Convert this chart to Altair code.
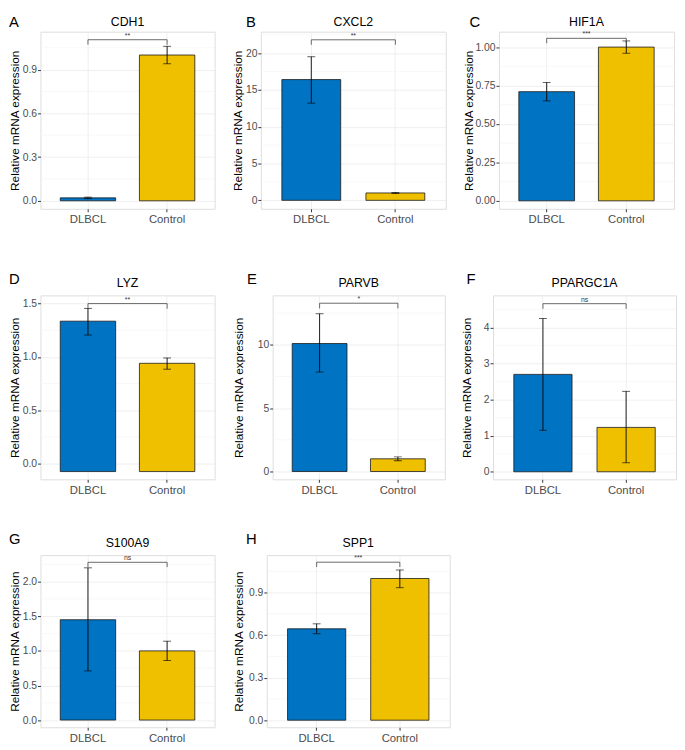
import altair as alt
import pandas as pd

# ---------------- data ----------------
genes = ["CDH1", "CXCL2", "HIF1A", "LYZ", "PARVB", "PPARGC1A", "S100A9", "SPP1"]
letters = ["A", "B", "C", "D", "E", "F", "G", "H"]
groups = ["DLBCL", "Control"]

dlbcl_mean = [0.02, 16.4, 0.71, 1.335, 10.1, 2.70, 1.45, 0.645]
dlbcl_lo = [0.015, 13.2, 0.65, 1.205, 7.85, 1.15, 0.71, 0.61]
dlbcl_hi = [0.025, 19.5, 0.77, 1.455, 12.45, 4.25, 2.20, 0.68]

control_mean = [1.0, 1.0, 1.0, 0.94, 1.0, 1.23, 1.0, 1.0]
control_lo = [0.94, 0.92, 0.96, 0.885, 0.85, 0.25, 0.86, 0.935]
control_hi = [1.06, 1.05, 1.04, 0.99, 1.15, 2.23, 1.14, 1.06]

bar_base = [0, 0, 0, -0.075, 0, 0, 0, 0]

sig_labels = ["**", "**", "***", "**", "*", "ns", "ns", "***"]
sig_y = [1.105, 21.8, 1.057, 1.50, 13.28, 4.66, 2.28, 1.115]

y_lims = [(-0.055, 1.16), (-1.15, 22.9), (-0.052, 1.10), (-0.148, 1.577),
          (-0.62, 13.9), (-0.21, 4.89), (-0.104, 2.384), (-0.05, 1.165)]
y_ticks = [[0, 0.3, 0.6, 0.9], [0, 5, 10, 15, 20], [0, 0.25, 0.5, 0.75, 1.0],
           [0, 0.5, 1.0, 1.5], [0, 5, 10], [0, 1, 2, 3, 4],
           [0, 0.5, 1.0, 1.5, 2.0], [0, 0.3, 0.6, 0.9]]
y_formats = [".1f", "d", ".2f", ".1f", "d", "d", ".1f", ".1f"]

# ---------------- style / layout ----------------
FONT = "Liberation Sans"
COLORS = ["#0073C2", "#EFC000"]
widths = [177, 188, 178, 177, 175, 186, 177, 186]
heights = [180, 180, 180, 187, 187, 187, 175, 175]
extents = [17, 15, 22, 17, 26, 18, 17, 20]
letter_dx = [-32, -15, -30, -32, -26, -27, -32, -21]
letter_dy = [-17, -17, -17, -24, -24, -24, -23, -23]
title_dy = [-6, -6, -6, -9, -9, -9, -8, -8]


def panel(i):
    lo_y, hi_y = y_lims[i]
    span = hi_y - lo_y
    ticks = y_ticks[i]
    step = ticks[1] - ticks[0]
    minors = []
    v = ticks[0] - step / 2
    while v < hi_y:
        if v > lo_y:
            minors.append(v)
        v += step

    bars = pd.DataFrame({
        "group": groups,
        "mean": [dlbcl_mean[i], control_mean[i]],
        "lo": [dlbcl_lo[i], control_lo[i]],
        "hi": [dlbcl_hi[i], control_hi[i]],
        "base": [bar_base[i]] * 2,
    })
    caps = pd.DataFrame({
        "group": groups * 2,
        "v": [dlbcl_lo[i], control_lo[i], dlbcl_hi[i], control_hi[i]],
    })
    tip = 0.028 * span
    bracket = pd.DataFrame({"x1": [groups[0]], "x2": [groups[1]],
                            "y": [sig_y[i]], "label": [sig_labels[i]]})
    legs = pd.DataFrame({"group": groups, "y": [sig_y[i]] * 2,
                         "y2": [sig_y[i] - tip] * 2})
    minor_df = pd.DataFrame({"v": minors})

    yscale = alt.Scale(domain=[lo_y, hi_y], nice=False, zero=False)
    xscale = alt.Scale(domain=groups, paddingInner=0.3, paddingOuter=0.25)

    x_axis = alt.Axis(title=None, labelAngle=0, grid=True, bandPosition=0.5,
                      gridColor="#ebebeb", gridWidth=0.8,
                      labelFontSize=11.5, labelColor="#4d4d4d", labelFont=FONT,
                      tickSize=3, tickColor="#333333", labelPadding=2,
                      domain=False)
    y_axis = alt.Axis(title="Relative mRNA expression", values=ticks, format=y_formats[i],
                      grid=True, gridColor="#ebebeb", gridWidth=0.8,
                      labelFontSize=10.5, labelColor="#4d4d4d", labelFont=FONT,
                      tickSize=3, tickColor="#333333", labelPadding=1,
                      titleFontSize=12, titleFont=FONT, titleColor="#000000",
                      titleFontWeight="normal", titlePadding=2,
                      minExtent=extents[i], maxExtent=extents[i], domain=False)

    def X(field="group"):
        return alt.X(f"{field}:N", scale=xscale, sort=groups, axis=x_axis,
                     title=None)

    def Y(field):
        return alt.Y(f"{field}:Q", scale=yscale, axis=y_axis,
                     title="Relative mRNA expression")

    minor_layer = alt.Chart(minor_df).mark_rule(color="#f3f3f3", strokeWidth=0.6).encode(
        y=Y("v"))

    bar_layer = alt.Chart(bars).mark_bar(stroke="#1a1a1a", strokeWidth=0.8).encode(
        x=X(),
        y=Y("mean"),
        y2="base:Q",
        color=alt.Color("group:N", scale=alt.Scale(domain=groups, range=COLORS), legend=None),
    )
    err_layer = alt.Chart(bars).mark_rule(color="#000000", strokeWidth=0.9).encode(
        x=X(), y=Y("lo"), y2="hi:Q")
    cap_layer = alt.Chart(caps).mark_tick(color="#000000", orient="horizontal",
                                          size=8, thickness=0.9).encode(
        x=X(), y=Y("v"))
    br_layer = alt.Chart(bracket).mark_rule(color="#444444", strokeWidth=0.8).encode(
        x=X("x1"), x2="x2:N", y=Y("y"))
    leg_layer = alt.Chart(legs).mark_rule(color="#444444", strokeWidth=0.8).encode(
        x=X(), y=Y("y"), y2="y2:Q")
    lab_layer = alt.Chart(bracket).mark_text(fontSize=7, color="#333333", font=FONT,
                                             baseline="bottom", dy=-1).encode(
        x=alt.value(widths[i] / 2), y=Y("y"), text="label:N")
    letter_layer = alt.Chart(pd.DataFrame({"t": [letters[i]]})).mark_text(
        fontSize=15, font=FONT, color="#000000", align="left", baseline="top").encode(
        x=alt.value(letter_dx[i]), y=alt.value(letter_dy[i]), text="t:N")
    title_layer = alt.Chart(pd.DataFrame({"t": [genes[i]]})).mark_text(
        fontSize=12.5, font=FONT, color="#000000", align="center",
        baseline="alphabetic").encode(
        x=alt.value(widths[i] / 2), y=alt.value(title_dy[i]), text="t:N")

    return alt.layer(minor_layer, bar_layer, err_layer, cap_layer, br_layer, leg_layer,
                     lab_layer, letter_layer, title_layer).properties(
        width=widths[i], height=heights[i])


p = [panel(i) for i in range(8)]
row1 = alt.hconcat(p[0], p[1], p[2], spacing=15)
row2 = alt.hconcat(alt.hconcat(p[3], p[4], spacing=16), p[5], spacing=14)
row3 = alt.hconcat(p[6], p[7], spacing=16)

chart = alt.vconcat(alt.vconcat(row1, row2, spacing=46), row3, spacing=36).configure_view(
    stroke="#8c8c8c", strokeWidth=1).configure(padding=0, background="white")

chart.save("out.html", embed_options={"renderer": "svg", "actions": False})
